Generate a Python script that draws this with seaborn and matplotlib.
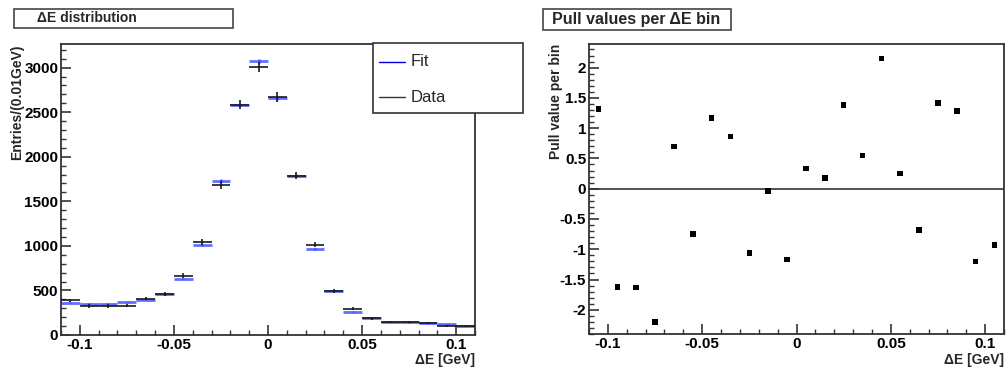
import numpy as np
import pandas as pd
import seaborn as sns
import matplotlib.pyplot as plt
import matplotlib.patches as patches
from matplotlib.lines import Line2D
from matplotlib.ticker import MultipleLocator

# ========================================
# 0. Data
# ========================================
bin_centers = [-0.105, -0.095, -0.085, -0.075, -0.065, -0.055, -0.045, -0.035,
               -0.025, -0.015, -0.005, 0.005, 0.015, 0.025, 0.035, 0.045,
               0.055, 0.065, 0.075, 0.085, 0.095, 0.105]
bin_half_width = 0.005

data_counts = [389, 325, 325, 329, 408, 460, 666, 1040,
               1683, 2581, 3008, 2671, 1788, 1014, 498, 296,
               187, 146, 150, 135, 101, 97]
fit_counts = [363, 352, 352, 369, 397, 456, 632, 1006,
              1732, 2581, 3075, 2656, 1788, 969, 490, 262,
              187, 146, 142, 131, 120, 101]
fit_errors = [6, 6, 6, 6, 7, 7, 8, 10,
              13, 16, 18, 16, 13, 10, 7, 6,
              4, 4, 4, 4, 4, 4]

pull_values = [1.32, -1.62, -1.63, -2.20, 0.70, -0.75, 1.17, 0.86,
               -1.06, -0.04, -1.17, 0.33, 0.18, 1.38, 0.55, 2.15,
               0.25, -0.68, 1.42, 1.28, -1.20, -0.93]

x_ticks = [-0.1, -0.05, 0, 0.05, 0.1]
x_ticklabels = ["-0.1", "-0.05", "0", "0.05", "0.1"]
entries_ticks = [0, 500, 1000, 1500, 2000, 2500, 3000]
pull_ticks = [-2, -1.5, -1, -0.5, 0, 0.5, 1, 1.5, 2]
pull_ticklabels = ["-2", "-1.5", "-1", "-0.5", "0", "0.5", "1", "1.5", "2"]

hist_df = pd.DataFrame({"dE": bin_centers, "data": data_counts, "fit": fit_counts,
                        "fit_err": fit_errors, "pull": pull_values})

# ========================================
# 1. Style
# ========================================
sns.set_style("ticks")
plt.rcParams['font.family'] = ['Liberation Sans', 'DejaVu Sans']

W, H = 1008, 372
fig = plt.figure(figsize=(W / 100, H / 100), dpi=100)


def px_rect(x0, y0, x1, y1):
    # pixel box (top-left origin) -> figure fraction rect
    return [x0 / W, 1 - y1 / H, (x1 - x0) / W, (y1 - y0) / H]


def style_frame(ax):
    for s in ax.spines.values():
        s.set_color('#333333')
        s.set_linewidth(1.3)
    ax.tick_params(which='both', direction='in', top=False, right=False,
                   colors='#333333', labelcolor='black')
    ax.tick_params(which='major', length=7, width=1.2, labelsize=11)
    ax.tick_params(which='minor', length=3.5, width=1.0)
    ax.tick_params(axis='x', which='major', pad=2)
    ax.tick_params(axis='y', which='major', pad=2)
    for lab in ax.get_xticklabels() + ax.get_yticklabels():
        lab.set_fontweight('bold')


# ========================================
# 2. Left panel: Delta E distribution
# ========================================
ax1 = fig.add_axes(px_rect(61, 44, 475, 335))
ax1.errorbar(hist_df["dE"], hist_df["fit"], xerr=bin_half_width, yerr=hist_df["fit_err"],
             fmt='none', ecolor='#3a4cff', elinewidth=2.0, alpha=0.8, zorder=2)
ax1.errorbar(hist_df["dE"], hist_df["data"], xerr=bin_half_width, yerr=np.sqrt(hist_df["data"]),
             fmt='none', ecolor='#1a1a1a', elinewidth=1.2, zorder=3)
ax1.set_xlim(-0.11, 0.11)
ax1.set_ylim(0, 3265)
ax1.set_xticks(x_ticks)
ax1.set_xticklabels(x_ticklabels)
ax1.set_yticks(entries_ticks)
ax1.set_yticklabels([str(t) for t in entries_ticks])
ax1.xaxis.set_minor_locator(MultipleLocator(0.01))
ax1.yaxis.set_minor_locator(MultipleLocator(100))
style_frame(ax1)
ax1.set_xlabel("")
ax1.set_ylabel("")
fig.text(475 / W, 1 - 360 / H, "\u0394E [GeV]", ha='right', va='center',
         fontsize=10, fontweight='bold')
fig.text(17 / W, 1 - 44 / H, "Entries/(0.01GeV)", rotation=90, ha='center', va='top',
         fontsize=10, fontweight='bold')

# ========================================
# 3. Right panel: pulls
# ========================================
ax2 = fig.add_axes(px_rect(589, 44, 1004, 334))
ax2.axhline(0, color='#333333', linewidth=1.2, zorder=1)
sns.scatterplot(data=hist_df, x="dE", y="pull", marker='s', s=16, color='black',
                edgecolor='none', ax=ax2, zorder=3)
ax2.set_xlim(-0.11, 0.11)
ax2.set_ylim(-2.4, 2.39)
ax2.set_xticks(x_ticks)
ax2.set_xticklabels(x_ticklabels)
ax2.set_yticks(pull_ticks)
ax2.set_yticklabels(pull_ticklabels)
ax2.xaxis.set_minor_locator(MultipleLocator(0.01))
ax2.yaxis.set_minor_locator(MultipleLocator(0.1))
style_frame(ax2)
ax2.set_xlabel("")
ax2.set_ylabel("")
fig.text(1004 / W, 1 - 360 / H, "\u0394E [GeV]", ha='right', va='center',
         fontsize=10, fontweight='bold')
fig.text(556 / W, 1 - 44 / H, "Pull value per bin", rotation=90, ha='center', va='top',
         fontsize=10, fontweight='bold')

# ========================================
# 4. Title boxes and legend (ROOT style)
# ========================================
for (x0, y0, x1, y1), txt, tx, fs in [((14, 9, 233, 28), "\u0394E distribution", 37, 10),
                                       ((543, 9, 731, 30), "Pull values per \u0394E bin", 552, 11.5)]:
    fig.patches.append(patches.Rectangle(
        (x0 / W, 1 - y1 / H), (x1 - x0) / W, (y1 - y0) / H, transform=fig.transFigure,
        facecolor='white', edgecolor='#444444', linewidth=1.2, zorder=5))
    fig.text(tx / W, 1 - (y0 + y1) / 2 / H, txt, ha='left', va='center',
             fontsize=fs, fontweight='bold', zorder=6)

lx0, ly0, lx1, ly1 = 373, 43, 523, 113
fig.patches.append(patches.Rectangle(
    (lx0 / W, 1 - ly1 / H), (lx1 - lx0) / W, (ly1 - ly0) / H, transform=fig.transFigure,
    facecolor='white', edgecolor='#333333', linewidth=1.2, zorder=5))
for y, col, lbl in [(62, '#0000dd', "Fit"), (97, '#333333', "Data")]:
    fig.add_artist(Line2D([379 / W, 405 / W], [1 - y / H, 1 - y / H], color=col,
                          linewidth=1.0, transform=fig.transFigure, zorder=6))
    fig.text(411 / W, 1 - y / H, lbl, ha='left', va='center', fontsize=12, zorder=6)

plt.savefig("out.png", dpi=100)
